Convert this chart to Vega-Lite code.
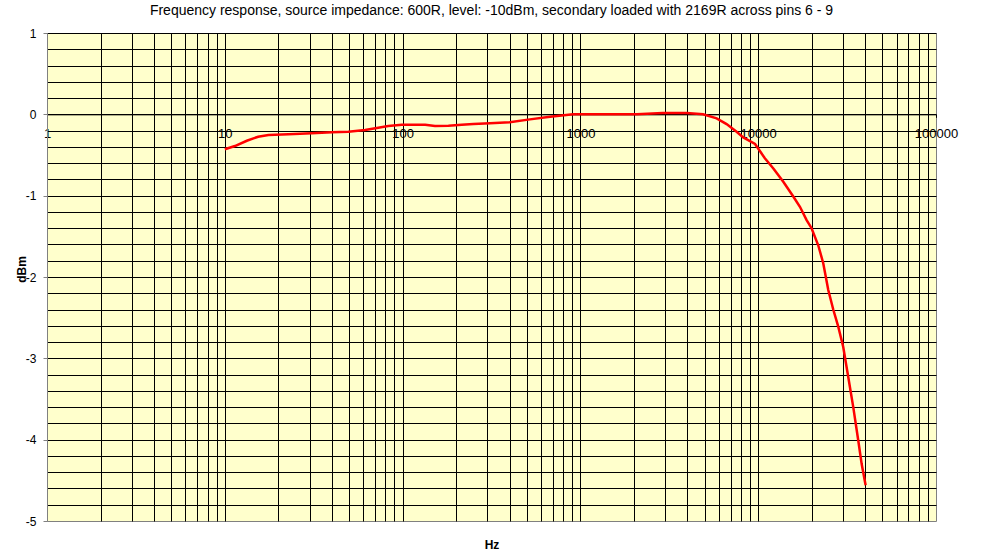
{
  "$schema": "https://vega.github.io/schema/vega-lite/v6.json",
  "width": 889,
  "height": 488,
  "autosize": {"type": "none"},
  "padding": {"left": 47, "top": 33, "right": 48, "bottom": 35},
  "background": "white",
  "title": {
    "text": "Frequency response, source impedance: 600R, level: -10dBm, secondary loaded with 2169R across pins 6 - 9",
    "font": "Liberation Sans",
    "fontSize": 14,
    "fontWeight": "normal",
    "color": "black",
    "anchor": "middle",
    "offset": 9
  },
  "config": {
    "font": "Liberation Sans",
    "view": {"fill": "#FFFFCC", "stroke": "#808080", "strokeWidth": 1}
  },
  "data": {
    "values": [
      {"hz": 10, "dbm": -0.43},
      {"hz": 11.4, "dbm": -0.39},
      {"hz": 13.3, "dbm": -0.325},
      {"hz": 15.4, "dbm": -0.275},
      {"hz": 17.6, "dbm": -0.255},
      {"hz": 22.8, "dbm": -0.246},
      {"hz": 30.8, "dbm": -0.234},
      {"hz": 40, "dbm": -0.22},
      {"hz": 49.5, "dbm": -0.213},
      {"hz": 61.5, "dbm": -0.193},
      {"hz": 73, "dbm": -0.165},
      {"hz": 83, "dbm": -0.144},
      {"hz": 99, "dbm": -0.128},
      {"hz": 134, "dbm": -0.128},
      {"hz": 152, "dbm": -0.144},
      {"hz": 181, "dbm": -0.14},
      {"hz": 215, "dbm": -0.128},
      {"hz": 250, "dbm": -0.12},
      {"hz": 310, "dbm": -0.11},
      {"hz": 400, "dbm": -0.098},
      {"hz": 520, "dbm": -0.062},
      {"hz": 675, "dbm": -0.03},
      {"hz": 910, "dbm": 0},
      {"hz": 1350, "dbm": 0},
      {"hz": 2075, "dbm": 0},
      {"hz": 2900, "dbm": 0.016},
      {"hz": 3960, "dbm": 0.016},
      {"hz": 4900, "dbm": 0},
      {"hz": 5840, "dbm": -0.05},
      {"hz": 6640, "dbm": -0.12},
      {"hz": 7560, "dbm": -0.214},
      {"hz": 8240, "dbm": -0.283},
      {"hz": 9600, "dbm": -0.365},
      {"hz": 10900, "dbm": -0.54},
      {"hz": 12170, "dbm": -0.665},
      {"hz": 13840, "dbm": -0.83},
      {"hz": 15750, "dbm": -1.01},
      {"hz": 17170, "dbm": -1.137},
      {"hz": 18720, "dbm": -1.3},
      {"hz": 19960, "dbm": -1.4},
      {"hz": 21760, "dbm": -1.61},
      {"hz": 23220, "dbm": -1.83},
      {"hz": 24780, "dbm": -2.16},
      {"hz": 26430, "dbm": -2.4},
      {"hz": 28200, "dbm": -2.61},
      {"hz": 30080, "dbm": -2.86},
      {"hz": 32100, "dbm": -3.23},
      {"hz": 34250, "dbm": -3.6},
      {"hz": 36540, "dbm": -4.01},
      {"hz": 38190, "dbm": -4.3},
      {"hz": 40200, "dbm": -4.56}
    ]
  },
  "mark": {"type": "line", "color": "#FF0000", "strokeWidth": 2.5},
  "encoding": {
    "x": {
      "field": "hz",
      "type": "quantitative",
      "scale": {"type": "log", "domain": [1, 100000], "nice": false},
      "axis": {
        "title": "Hz",
        "offset": -406.67,
        "values": [1,2,3,4,5,6,7,8,9,10,20,30,40,50,60,70,80,90,100,200,300,400,500,600,700,800,900,1000,2000,3000,4000,5000,6000,7000,8000,9000,10000,20000,30000,40000,50000,60000,70000,80000,90000,100000],
        "grid": true,
        "gridColor": "black",
        "gridWidth": 1,
        "gridOpacity": {"condition": {"test": "datum.value === 100000 || datum.value === 1", "value": 0}, "value": 1},
        "domain": true,
        "domainColor": "black",
        "domainWidth": 1,
        "ticks": true,
        "tickColor": "black",
        "tickSize": 3,
        "tickOpacity": {"condition": {"test": "indexof([1,10,100,1000,10000,100000], datum.value) >= 0", "value": 1}, "value": 0},
        "labelExpr": "indexof([1,10,100,1000,10000,100000], datum.value) >= 0 ? '' + datum.value : ''",
        "labelFont": "Liberation Sans",
        "labelFontSize": 13,
        "labelColor": "black",
        "labelPadding": 10,
        "labelFlush": false,
        "labelOverlap": false,
        "titleFont": "Liberation Sans",
        "titleFontSize": 12,
        "titleFontWeight": "bold",
        "titleColor": "black",
        "titleBaseline": "middle",
        "titleY": 430
      }
    },
    "y": {
      "field": "dbm",
      "type": "quantitative",
      "scale": {"domain": [-5, 1], "nice": false, "zero": false},
      "axis": {
        "title": "dBm",
        "values": [1,0.8,0.6,0.4,0.2,0,-0.2,-0.4,-0.6,-0.8,-1,-1.2,-1.4,-1.6,-1.8,-2,-2.2,-2.4,-2.6,-2.8,-3,-3.2,-3.4,-3.6,-3.8,-4,-4.2,-4.4,-4.6,-4.8,-5],
        "grid": true,
        "gridColor": "black",
        "gridWidth": 1,
        "gridOpacity": {"condition": {"test": "datum.value === -5", "value": 0}, "value": 1},
        "domain": true,
        "domainColor": "#808080",
        "domainWidth": 1,
        "ticks": true,
        "tickColor": "#808080",
        "tickSize": 4,
        "tickOpacity": {"condition": {"test": "datum.value % 1 === 0", "value": 1}, "value": 0},
        "labelExpr": "datum.value % 1 === 0 ? '' + datum.value : ''",
        "labelFont": "Liberation Sans",
        "labelFontSize": 12,
        "labelColor": "black",
        "labelPadding": 7,
        "labelOverlap": false,
        "labelFlush": false,
        "titleFont": "Liberation Sans",
        "titleFontSize": 12,
        "titleFontWeight": "bold",
        "titleColor": "black",
        "titleAngle": -90,
        "titleAlign": "center",
        "titleBaseline": "middle",
        "titleX": -26,
        "titleY": 236
      }
    }
  }
}
